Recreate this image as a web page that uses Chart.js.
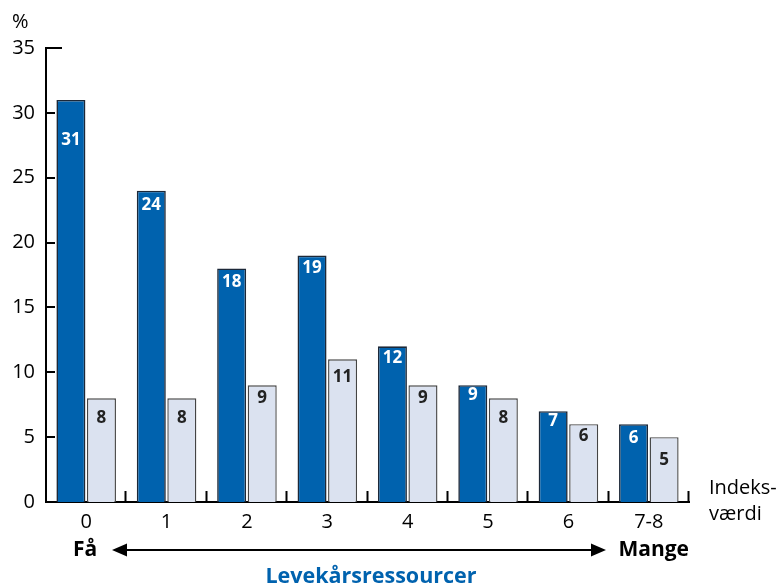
<!DOCTYPE html>
<html>
<head>
<meta charset="utf-8">
<script src="https://cdn.jsdelivr.net/npm/chart.js@4/dist/chart.umd.min.js"></script>
<style>
  html, body { margin: 0; padding: 0; background: #ffffff; }
  #wrap { width: 781px; height: 586px; }
</style>
</head>
<body>
<div id="wrap"><canvas id="c" width="781" height="586"></canvas></div>
<script>
// Index values of living-condition resources (0 = few, 7-8 = many)
const categories = ['0', '1', '2', '3', '4', '5', '6', '7-8'];
// Share in percent, two groups
const seriesDark = [31, 24, 18, 19, 12, 9, 7, 6];
const seriesLight = [8, 8, 9, 11, 9, 8, 6, 5];
const yTicks = [0, 5, 10, 15, 20, 25, 30, 35];

// Vertical drop of each value label below its bar top (px)
const dropDark = [40, 14, 14, 13, 12, 10, 10, 14];
const dropLight = [20, 20, 13, 18, 13, 20, 12, 23];

const FONT = "'Open Sans', 'DejaVu Sans', sans-serif";
const BLUE = '#0062ae';
const PALE = '#dbe2f0';

const decor = {
  id: 'decor',
  afterDatasetsDraw(chart) {
    const ctx = chart.ctx;
    const y = chart.scales.y;
    const area = chart.chartArea;
    ctx.save();

    // value labels inside the bars
    ctx.textAlign = 'center';
    ctx.textBaseline = 'middle';
    ctx.font = 'bold 17px ' + FONT;
    [[0, dropDark, '#ffffff'], [1, dropLight, '#222222']].forEach(([di, drops, col]) => {
      const meta = chart.getDatasetMeta(di);
      meta.data.forEach((bar, i) => {
        ctx.fillStyle = col;
        ctx.fillText(String(chart.data.datasets[di].data[i]), bar.x, bar.y + drops[i]);
      });
    });

    // y tick marks pointing inward, longer one at the top
    ctx.strokeStyle = '#000';
    ctx.lineWidth = 2;
    yTicks.forEach(v => {
      if (v === 0) return;
      const py = Math.round(y.getPixelForValue(v));
      const len = v === 35 ? 16 : 9;
      ctx.beginPath();
      ctx.moveTo(area.left, py);
      ctx.lineTo(area.left + len, py);
      ctx.stroke();
    });

    // category boundary ticks on the x axis
    const step = (area.right - area.left) / categories.length;
    for (let i = 1; i <= categories.length; i++) {
      const px = Math.round(area.left + step * i) - 0.5;
      ctx.beginPath();
      ctx.moveTo(px, area.bottom);
      ctx.lineTo(px, area.bottom - 11);
      ctx.stroke();
    }

    // percent sign above the y axis
    ctx.fillStyle = '#000';
    ctx.font = '20px ' + FONT;
    ctx.textAlign = 'left';
    ctx.textBaseline = 'middle';
    ctx.fillText('%', 12, 22);

    // axis unit at the right end
    ctx.fillText('Indeks-', 709, 488);
    ctx.fillText('værdi', 709, 514);

    // few / many arrow
    const ay = 550;
    ctx.font = 'bold 21px ' + FONT;
    ctx.textAlign = 'left';
    ctx.fillText('Få', 73, ay);
    ctx.textAlign = 'right';
    ctx.fillText('Mange', 689, ay);
    ctx.beginPath();
    ctx.moveTo(120, ay);
    ctx.lineTo(598, ay);
    ctx.stroke();
    ctx.beginPath();
    ctx.moveTo(112, ay);
    ctx.lineTo(127, ay - 6.5);
    ctx.lineTo(127, ay + 6.5);
    ctx.closePath();
    ctx.fill();
    ctx.beginPath();
    ctx.moveTo(606, ay);
    ctx.lineTo(591, ay - 6.5);
    ctx.lineTo(591, ay + 6.5);
    ctx.closePath();
    ctx.fill();

    // axis title
    ctx.fillStyle = BLUE;
    ctx.textAlign = 'center';
    ctx.font = 'bold 21.5px ' + FONT;
    ctx.fillText('Levekårsressourcer', 371, 577);

    ctx.restore();
  }
};

new Chart(document.getElementById('c'), {
  type: 'bar',
  data: {
    labels: categories,
    datasets: [
      {
        data: seriesDark,
        backgroundColor: BLUE,
        borderColor: '#1c2838',
        borderWidth: 1.6,
        borderSkipped: 'bottom',
        categoryPercentage: 0.76,
        barPercentage: 0.95
      },
      {
        data: seriesLight,
        backgroundColor: PALE,
        borderColor: '#444444',
        borderWidth: 1.4,
        borderSkipped: 'bottom',
        categoryPercentage: 0.76,
        barPercentage: 0.95
      }
    ]
  },
  options: {
    responsive: false,
    animation: false,
    layout: { padding: { top: 48, right: 92, left: 0, bottom: 0 } },
    plugins: {
      legend: { display: false },
      tooltip: { enabled: false }
    },
    scales: {
      x: {
        grid: { display: false, drawTicks: false },
        border: { display: true, color: '#000', width: 2 },
        ticks: {
          color: '#000',
          font: { family: FONT, size: 20 },
          padding: 8,
          maxRotation: 0
        },
        afterFit(scale) { scale.height = 84; }
      },
      y: {
        min: 0,
        max: 35,
        grid: { display: false, drawTicks: false },
        border: { display: true, color: '#000', width: 2 },
        ticks: {
          stepSize: 5,
          color: '#000',
          font: { family: FONT, size: 20 },
          padding: 11
        },
        afterBuildTicks(scale) { scale.ticks = yTicks.map(v => ({ value: v })); },
        afterFit(scale) { scale.width = 46; }
      }
    }
  },
  plugins: [decor]
});
</script>
</body>
</html>
